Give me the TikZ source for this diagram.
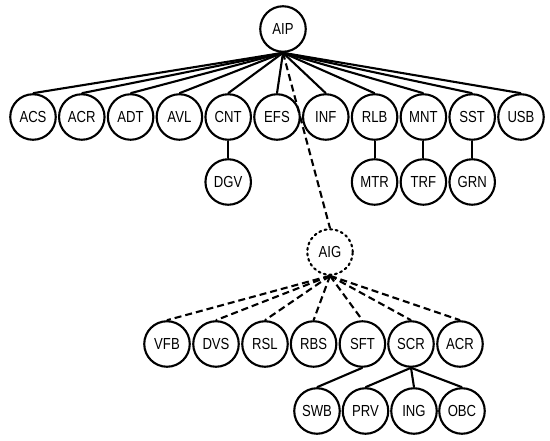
\documentclass[tikz,border=0pt]{standalone}
\usepackage{fontspec}
\setmainfont{Liberation Sans}[FakeStretch=0.82]
\usepackage{tikz}

\tikzset{
	mod/.style={circle, draw, line width=2.1pt, minimum size=45.5pt, inner sep=0pt, font=\fontsize{16}{16}\selectfont},
	opt/.style={mod, dash pattern=on 2pt off 3.6pt, line cap=round},
	link/.style={line width=2.1pt},
	optlink/.style={line width=2.1pt, dash pattern=on 7pt off 4pt}
}

\begin{document}
\begin{tikzpicture}[x=1pt, y=-1pt]
			\useasboundingbox (0,0) rectangle (550,441);
			
			\node[mod] (aip) at (283,29) {AIP};
			
			\node[mod] (acs) at (33,117) {ACS};
			\node[mod] (acr) at (81.8,117) {ACR};
			\node[mod] (adt) at (130.6,117) {ADT};
			\node[mod] (avl) at (179.4,117) {AVL};
			\node[mod] (cnt) at (228.2,117) {CNT};
			\node[mod] (efs) at (277,117) {EFS};
			\node[mod] (inf) at (325.8,117) {INF};
			\node[mod] (rlb) at (374.6,117) {RLB};
			\node[mod] (mnt) at (423.4,117) {MNT};
			\node[mod] (sst) at (472.2,117) {SST};
			\node[mod] (usb) at (521,117) {USB};
			
			\node[mod] (dgv) at (228.2,182) {DGV};
			\node[mod] (mtr) at (374.6,182) {MTR};
			\node[mod] (trf) at (423.4,182) {TRF};
			\node[mod] (grn) at (472.2,182) {GRN};
			
			\node[opt] (aig) at (330,252) {AIG};
			
			\node[mod] (vfb) at (167,344) {VFB};
			\node[mod] (dvs) at (216,344) {DVS};
			\node[mod] (rsl) at (265,344) {RSL};
			\node[mod] (rbs) at (313.6,344) {RBS};
			\node[mod] (sft) at (362.4,344) {SFT};
			\node[mod] (scr) at (411,344) {SCR};
			\node[mod] (acr2) at (460,344) {ACR};
			
			\node[mod] (swb) at (317,411) {SWB};
			\node[mod] (prv) at (365.5,411) {PRV};
			\node[mod] (ing) at (414,411) {ING};
			\node[mod] (obc) at (462,411) {OBC};
			
			\foreach \c in {acs,acr,adt,avl,cnt,efs,inf,rlb,mnt,sst,usb}
				\draw[link] (aip.south) to (\c.north);
			\draw[link] (cnt) to (dgv);
			\draw[link] (rlb) to (mtr);
			\draw[link] (mnt) to (trf);
			\draw[link] (sst) to (grn);
			
			\draw[optlink] (aip.south) to (aig.north);
			\foreach \c in {vfb,dvs,rsl,rbs,sft,scr,acr2}
				\draw[optlink] (aig.south) to (\c.north);
			
			\draw[link] (sft.south) to (swb.north);
			\foreach \c in {prv,ing,obc}
				\draw[link] (scr.south) to (\c.north);
		\end{tikzpicture}
\end{document}
